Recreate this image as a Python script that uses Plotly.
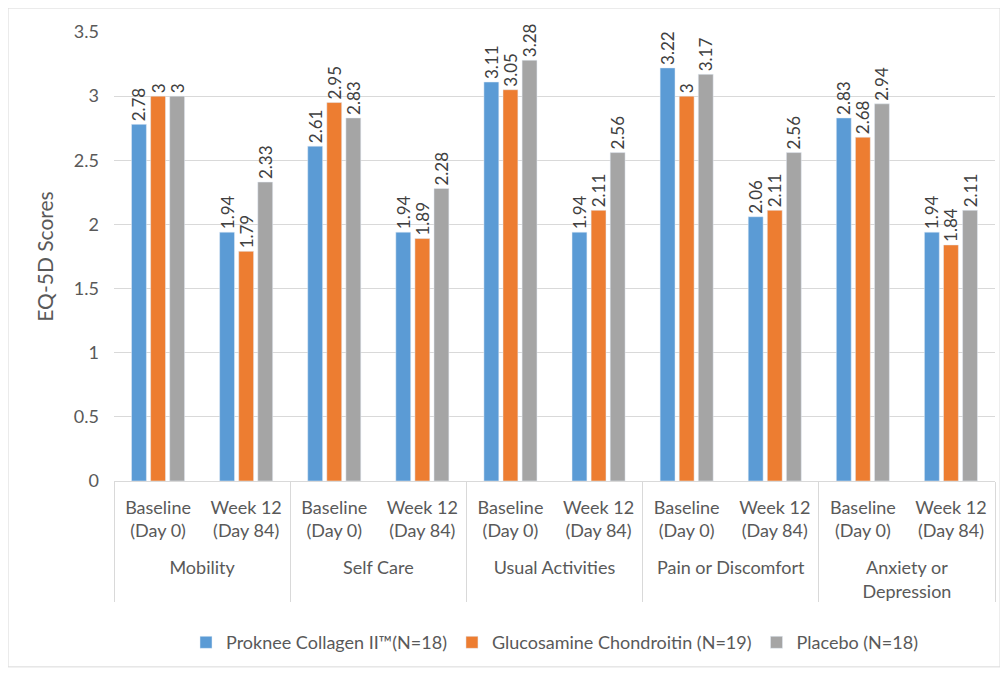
import plotly.graph_objects as go

dimensions = ["Mobility", "Self Care", "Usual Activities", "Pain or Discomfort", "Anxiety or<br>Depression"]
timepoints = ["Baseline<br>(Day 0)", "Week 12<br>(Day 84)"]

series_names = ["Proknee Collagen II™(N=18)", "Glucosamine Chondroitin (N=19)", "Placebo (N=18)"]
proknee = [2.78, 1.94, 2.61, 1.94, 3.11, 1.94, 3.22, 2.06, 2.83, 1.94]
glucosamine = [3, 1.79, 2.95, 1.89, 3.05, 2.11, 3, 2.11, 2.68, 1.84]
placebo = [3, 2.33, 2.83, 2.28, 3.28, 2.56, 3.17, 2.56, 2.94, 2.11]
colors = ["#5B9BD5", "#ED7D31", "#A5A5A5"]

# leading line break leaves the extra gap Excel puts between the two label rows
x_main = ["<br>" + d for d in dimensions for _ in timepoints]
x_sub = [t for _ in dimensions for t in timepoints]

FONT = "Lato"
fig = go.Figure()
for name, vals, col in zip(series_names, [proknee, glucosamine, placebo], colors):
    fig.add_trace(go.Bar(
        x=[x_main, x_sub], y=vals, name=name, marker_color=col,
        text=vals, texttemplate="%{y}", textposition="outside", textangle=-90,
        textfont=dict(size=17, color="#404040", family=FONT),
        constraintext="none", cliponaxis=False,
    ))

fig.update_layout(
    width=1008, height=673,
    barmode="group", bargap=0.35, bargroupgap=0.22,
    paper_bgcolor="white", plot_bgcolor="white",
    margin=dict(l=106, r=21, t=24, b=200),
    font=dict(family=FONT, color="#595959", size=18),
    legend=dict(orientation="h", x=0.5, xanchor="center", y=-0.36, yanchor="middle",
                font=dict(size=18, color="#595959"), bgcolor="rgba(0,0,0,0)",
                traceorder="normal"),
)
fig.update_yaxes(range=[0, 3.5], dtick=0.5, showgrid=True, gridcolor="#D9D9D9", gridwidth=1,
                 zeroline=False, showline=False, tickfont=dict(size=18, color="#595959"),
                 title=dict(text="EQ-5D Scores", font=dict(size=21, color="#595959"), standoff=14),
                 ticklabelstandoff=14)
fig.update_xaxes(type="multicategory", showline=True, linecolor="#D9D9D9", linewidth=1,
                 showdividers=True, dividercolor="#D9D9D9", dividerwidth=1,
                 tickfont=dict(size=18, color="#595959"), ticks="", ticklabelstandoff=10)
fig.add_shape(type="rect", xref="paper", yref="paper", x0=-0.1203, x1=1.0057, y0=-0.414, y1=1.0534,
              line=dict(color="#D9D9D9", width=1), fillcolor="rgba(0,0,0,0)")
fig.write_html("out.html")
